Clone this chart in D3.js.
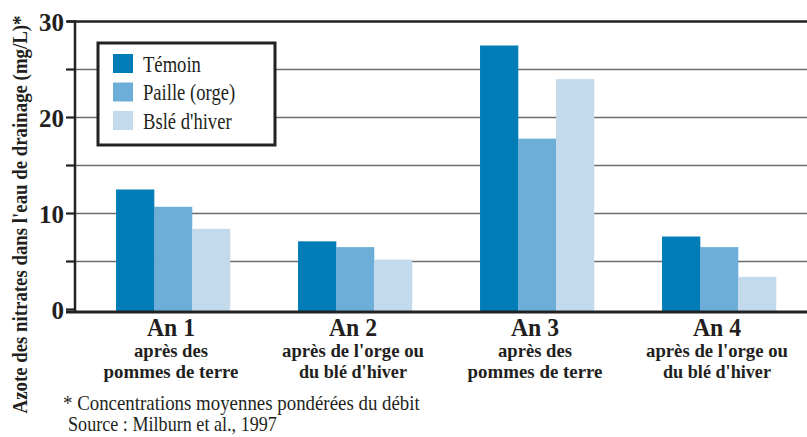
<!DOCTYPE html>
<html><head><meta charset="utf-8">
<script src="https://cdn.jsdelivr.net/npm/d3@7"></script>
<style>html,body{margin:0;padding:0;background:#fff;}svg{display:block;}</style>
</head><body>
<script>
const categories = ["An 1", "An 2", "An 3", "An 4"];
const subtitles = [
  ["après des", "pommes de terre"],
  ["après de l'orge ou", "du blé d'hiver"],
  ["après des", "pommes de terre"],
  ["après de l'orge ou", "du blé d'hiver"]
];
const seriesNames = ["Témoin", "Paille (orge)", "Bslé d'hiver"];
const temoin = [12.5, 7.1, 27.5, 7.6];
const paille = [10.7, 6.5, 17.8, 6.5];
const bsle = [8.4, 5.2, 24.0, 3.4];
const majorTicks = [0, 10, 20, 30];
const minorTicks = [5, 15, 25];
const yTitle = "Azote des nitrates dans l'eau de drainage (mg/L)*";
const footnotes = ["* Concentrations moyennes pondérées du débit", "Source : Milburn et al., 1997"];

const colors = ["#007cb7", "#6daed8", "#c3daed"];
const W = 807, H = 437;
const serif = "'Liberation Serif', 'DejaVu Serif', serif";

const svg = d3.select("body").append("svg").attr("width", W).attr("height", H);

const y = d3.scaleLinear().domain([0, 30]).range([309.5, 21.5]);
const x0 = d3.scaleBand().domain(categories).range([82, 810]).paddingInner(0.374).paddingOuter(0.187);
const x1 = d3.scaleBand().domain(seriesNames).range([0, x0.bandwidth()]);
const vals = [temoin, paille, bsle];

const axisX = 75;

// gridlines
svg.append("g").selectAll("line").data(minorTicks.concat([10, 20])).join("line")
  .attr("x1", axisX).attr("x2", W).attr("y1", d => y(d)).attr("y2", d => y(d))
  .attr("stroke", "#6b6b6b").attr("stroke-width", 1.6);

// top line at 30
svg.append("line").attr("x1", 67).attr("x2", W).attr("y1", y(30)).attr("y2", y(30))
  .attr("stroke", "#222").attr("stroke-width", 2.5);

// bars
const g = svg.append("g");
categories.forEach((c, i) => {
  seriesNames.forEach((s, j) => {
    g.append("rect")
      .attr("x", x0(c) + x1(s))
      .attr("width", x1.bandwidth() + 0.3)
      .attr("y", y(vals[j][i]))
      .attr("height", y(0) + 1.5 - y(vals[j][i]))
      .attr("fill", colors[j]);
  });
});

// y axis
svg.append("line").attr("x1", axisX).attr("x2", axisX).attr("y1", y(30) - 1).attr("y2", y(0) + 3)
  .attr("stroke", "#222").attr("stroke-width", 2.5);
svg.append("g").selectAll("line").data(majorTicks.concat(minorTicks)).join("line")
  .attr("x1", 66).attr("x2", axisX).attr("y1", d => y(d)).attr("y2", d => y(d))
  .attr("stroke", "#222").attr("stroke-width", 2.2);

// baseline
svg.append("line").attr("x1", 66).attr("x2", W).attr("y1", y(0) + 2.5).attr("y2", y(0) + 2.5)
  .attr("stroke", "#222").attr("stroke-width", 3);

// condensed text helper
function ctext(parent, str, x, yy, size, weight, anchor, sx) {
  return parent.append("text")
    .attr("transform", `translate(${x},${yy}) scale(${sx},1)`)
    .attr("text-anchor", anchor)
    .attr("font-family", serif)
    .attr("font-size", size)
    .attr("font-weight", weight)
    .attr("fill", "#231f20")
    .text(str);
}
// text fitted to a target width by horizontal scaling
function fitText(parent, str, x, yy, size, weight, anchor, width, rot) {
  const t = parent.append("text")
    .attr("text-anchor", anchor)
    .attr("font-family", serif)
    .attr("font-size", size)
    .attr("font-weight", weight)
    .attr("fill", "#231f20")
    .text(str);
  const len = t.node().getComputedTextLength();
  const sx = width / len;
  t.attr("transform", `translate(${x},${yy})${rot ? ` rotate(${rot})` : ""} scale(${sx},1)`);
  return t;
}

// y tick labels
majorTicks.forEach(t => {
  ctext(svg, String(t), 64, y(t) + 9, 26, "bold", "end", 0.96);
});

// y title
fitText(svg, yTitle, 27, (15 + 414) / 2, 22, "bold", "middle", 398, -90);

// category labels
categories.forEach((c, i) => {
  const cx = x0(c) + x0.bandwidth() / 2 - 2;
  ctext(svg, c, cx, 336, 25, "bold", "middle", 0.95);
  fitText(svg, subtitles[i][0], cx, 357, 18, "bold", "middle", subtitles[i][0].length > 10 ? 142 : 74);
  fitText(svg, subtitles[i][1], cx, 378, 18, "bold", "middle", subtitles[i][1].length > 14 ? 135 : 108);
});

// legend
const lg = svg.append("g");
lg.append("rect").attr("x", 98).attr("y", 43).attr("width", 177).attr("height", 102)
  .attr("fill", "#fff").attr("stroke", "#222").attr("stroke-width", 3);
seriesNames.forEach((s, j) => {
  const ry = 54 + j * 28.5;
  lg.append("rect").attr("x", 113).attr("y", ry).attr("width", 20).attr("height", 19).attr("fill", colors[j]);
  ctext(lg, s, 143, ry + 17.5, 23, "normal", "start", 0.81);
});

// footnotes
fitText(svg, footnotes[0], 63, 410, 21, "normal", "start", 357);
fitText(svg, footnotes[1], 68, 431, 21, "normal", "start", 209);
</script>
</body></html>
